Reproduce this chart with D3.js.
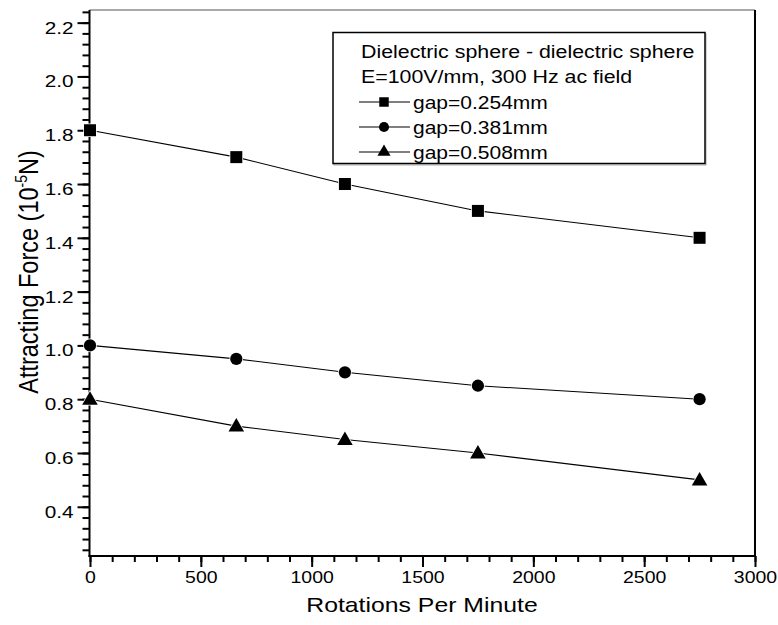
<!DOCTYPE html>
<html>
<head>
<meta charset="utf-8">
<script src="https://cdn.jsdelivr.net/npm/d3@7/dist/d3.min.js"></script>
<style>
  html, body { margin: 0; padding: 0; background: #fff; }
  svg { display: block; }
  text { font-family: "Liberation Sans", Arial, Helvetica, sans-serif; fill: #000; }
</style>
</head>
<body>
<svg id="chart" width="778" height="625"></svg>
<script>
// ---- Data ----
const rpm = [0, 660, 1150, 1750, 2750];
const gap254 = [1.8, 1.7, 1.6, 1.5, 1.4];
const gap381 = [1.0, 0.95, 0.9, 0.85, 0.8];
const gap508 = [0.8, 0.7, 0.65, 0.6, 0.5];
const seriesNames = ["gap=0.254mm", "gap=0.381mm", "gap=0.508mm"];
const seriesSymbols = ["square", "circle", "triangle"];
const xTickLabels = ["0", "500", "1000", "1500", "2000", "2500", "3000"];
const yTickLabels = ["0.4", "0.6", "0.8", "1.0", "1.2", "1.4", "1.6", "1.8", "2.0", "2.2"];
const legendTitle = ["Dielectric sphere - dielectric sphere", "E=100V/mm, 300 Hz ac field"];

const series = [gap254, gap381, gap508].map((vals, i) => ({
  name: seriesNames[i], symbol: seriesSymbols[i],
  points: rpm.map((r, j) => ({x: r, y: vals[j]}))
}));

const STRETCH = 1.18;
function stretch(sel, k) {
  const f = k || STRETCH;
  sel.each(function() {
    const L = this.getComputedTextLength();
    d3.select(this).attr("textLength", L * f).attr("lengthAdjust", "spacingAndGlyphs");
  });
}

// ---- Layout ----
const svg = d3.select("#chart");
const pL = 89.5, pR = 755, pT = 10, pB = 556;
const x = d3.scaleLinear().domain([0, 3000]).range([90, 755]);
const y = d3.scaleLinear().domain([0.217, 2.247]).range([pB, pT]);

// frame: top (thin gray) and right (black)
svg.append("line").attr("x1", pL).attr("x2", pR).attr("y1", pT).attr("y2", pT)
  .attr("stroke", "#555").attr("stroke-width", 1);
svg.append("line").attr("x1", pR).attr("x2", pR).attr("y1", pT).attr("y2", pB)
  .attr("stroke", "#000").attr("stroke-width", 2);

// ---- Axes ----
const xMinor = d3.range(0, 3001, 100);
const xMajor = xTickLabels.map(Number);
const gx = svg.append("g").attr("transform", `translate(0,${pB})`);
gx.call(d3.axisBottom(x).tickValues(xMinor).tickSize(6).tickFormat(""));
gx.select(".domain").remove();
const gxM = svg.append("g").attr("transform", `translate(0,${pB})`);
gxM.call(d3.axisBottom(x).tickValues(xMajor).tickSize(11).tickPadding(6)
  .tickFormat((d, i) => xTickLabels[i]));
gxM.select(".domain").remove();
[gx, gxM].forEach(g => g.selectAll(".tick line").attr("stroke", "#000").attr("stroke-width", 2));
gxM.selectAll(".tick text").attr("font-size", 16.5)
  .attr("font-family", "Liberation Sans, Arial, sans-serif")
  .attr("y", 27).attr("dy", 0).call(stretch);
svg.append("line").attr("x1", pL - 1).attr("x2", pR + 1).attr("y1", pB).attr("y2", pB)
  .attr("stroke", "#000").attr("stroke-width", 2);

const yMinor = d3.range(0, 56).map(i => +(0.24 + i * 0.04).toFixed(2)).filter(v => v <= 2.247);
const yMajor = yTickLabels.map(Number);
const gy = svg.append("g").attr("transform", `translate(${pL},0)`);
gy.call(d3.axisLeft(y).tickValues(yMinor).tickSize(7).tickFormat(""));
gy.select(".domain").remove();
const gyM = svg.append("g").attr("transform", `translate(${pL},0)`);
gyM.call(d3.axisLeft(y).tickValues(yMajor).tickSize(12).tickPadding(4)
  .tickFormat((d, i) => yTickLabels[i]));
gyM.select(".domain").remove();
[gy, gyM].forEach(g => g.selectAll(".tick line").attr("stroke", "#000").attr("stroke-width", 2));
gyM.selectAll(".tick text").attr("font-size", 17)
  .attr("font-family", "Liberation Sans, Arial, sans-serif")
  .attr("dy", "0.62em").call(stretch, 1.22);
svg.append("line").attr("x1", pL).attr("x2", pL).attr("y1", pT).attr("y2", pB + 1)
  .attr("stroke", "#000").attr("stroke-width", 2);

// ---- Axis titles ----
svg.append("text").attr("x", 422).attr("y", 612).attr("text-anchor", "middle")
  .attr("font-size", 21).text("Rotations Per Minute").call(stretch);
const yt = svg.append("text").attr("transform", `translate(38,272) rotate(-90) scale(1,${STRETCH})`)
  .attr("text-anchor", "middle").attr("font-size", 23.5);
yt.append("tspan").text("Attracting Force (10");
yt.append("tspan").attr("font-size", 14).attr("dy", -9).text("-5");
yt.append("tspan").attr("dy", 9).text("N)");

// ---- Symbols ----
function sym(type, size) {
  const t = type === "square" ? d3.symbolSquare : type === "circle" ? d3.symbolCircle : d3.symbolTriangle;
  return d3.symbol().type(t).size(size)();
}
const markerSize = {square: 144, circle: 118, triangle: 105};

const line = d3.line().x(d => x(d.x)).y(d => y(d.y));
series.forEach(s => {
  svg.append("path").datum(s.points).attr("d", line)
    .attr("fill", "none").attr("stroke", "#000").attr("stroke-width", 1.1);
  svg.selectAll(null).data(s.points).enter().append("path")
    .attr("d", sym(s.symbol, markerSize[s.symbol]))
    .attr("transform", d => `translate(${x(d.x)},${y(d.y) + (s.symbol === "triangle" ? 1 : 0)})`)
    .attr("fill", "#000").attr("stroke", "#fff").attr("stroke-width", 1.5).attr("paint-order", "stroke");
});

// ---- Legend ----
const lg = svg.append("g");
lg.append("rect").attr("x", 334).attr("y", 34).attr("width", 372).attr("height", 131)
  .attr("fill", "none").attr("stroke", "#aaa").attr("stroke-width", 1);
lg.append("rect").attr("x", 333).attr("y", 32.5).attr("width", 372).attr("height", 131)
  .attr("fill", "#fff").attr("stroke", "#000").attr("stroke-width", 1.5);
legendTitle.forEach((t, i) => {
  lg.append("text").attr("x", 361).attr("y", 58 + i * 25).attr("font-size", 17.5).text(t).call(stretch, 1.22);
});
const legSize = {square: 90, circle: 80, triangle: 75};
series.forEach((s, i) => {
  const cy = 102 + i * 25;
  lg.append("line").attr("x1", 359).attr("x2", 410).attr("y1", cy).attr("y2", cy)
    .attr("stroke", "#000").attr("stroke-width", 1.1);
  lg.append("path").attr("d", sym(s.symbol, legSize[s.symbol]))
    .attr("transform", `translate(384,${cy})`).attr("fill", "#000");
  lg.append("text").attr("x", 413).attr("y", cy + 6.5).attr("font-size", 17.5).text(s.name).call(stretch, 1.2);
});
</script>
</body>
</html>
